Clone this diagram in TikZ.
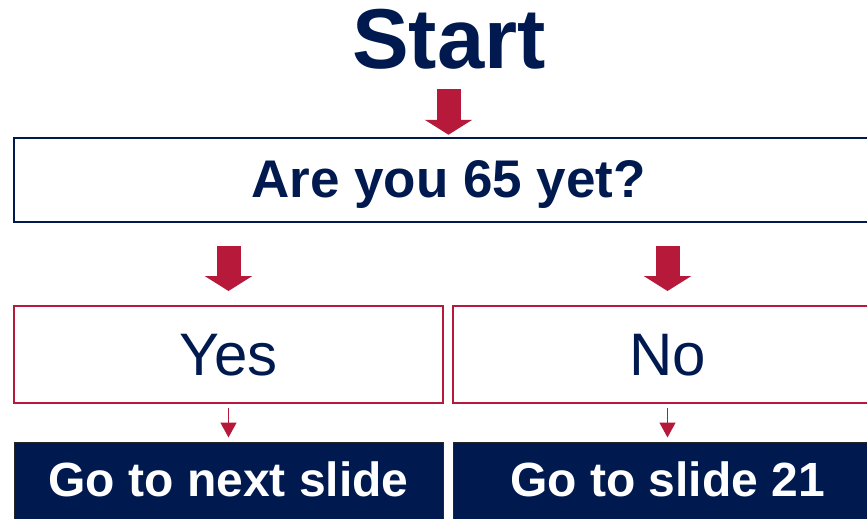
\documentclass[tikz,border=0pt]{standalone}
\usepackage{fontspec}
\setmainfont{Liberation Sans}
\usetikzlibrary{arrows.meta,calc}
\definecolor{navy}{RGB}{0,26,80}
\definecolor{crim}{RGB}{182,25,58}
\tikzset{
  x=1pt,y=1pt,
  qbox/.style={draw=navy,line width=2pt,minimum width=870pt,minimum height=84pt,inner sep=0pt,
    font=\fontsize{53}{53}\selectfont\bfseries,text=navy,text height=37.9pt,text depth=4.4pt},
  ansbox/.style={draw=crim,line width=2pt,minimum width=429pt,minimum height=97pt,inner sep=0pt,
    font=\fontsize{60}{60}\selectfont,text=navy,text height=43pt,text depth=2pt},
  gobox/.style={fill=navy,draw=black!85,line width=1pt,minimum width=429pt,minimum height=88pt,inner sep=0pt,
    font=\fontsize{48}{48}\selectfont\bfseries,text=white,text height=34.4pt,text depth=14.4pt},
  bigarr/.style={draw=crim,line width=24pt,-{Triangle[width=47pt,length=15pt]}},
  smallarr/.style={draw=crim,line width=1.5pt,-{Triangle[width=16pt,length=15pt]}},
}
\begin{document}
\begin{tikzpicture}
\useasboundingbox (0,0) rectangle (867,-519);
\node[anchor=base,inner sep=0pt,font=\fontsize{85}{85}\selectfont\bfseries,text=navy] (start) at (449,-69) {Start};
\node[qbox] (q) at (448.5,-180.25) {Are you 65 yet?};
\node[ansbox] (yes) at (228.5,-354.5) {Yes};
\node[ansbox] (no) at (667.5,-354.5) {No};
\node[gobox] (go1) at (228.5,-486) {Go to next slide};
\node[gobox] (go2) at (667.5,-486) {Go to slide 21};
\draw[bigarr] ($(start.base -| q.north)+(0,-20)$) -- ($(q.north)+(0,2.5)$);
\draw[bigarr] ($(q.south -| yes.north)+(0,-23)$) -- ($(yes.north)+(0,14)$);
\draw[bigarr] ($(q.south -| no.north)+(0,-23)$) -- ($(no.north)+(0,14)$);
\draw[smallarr] ($(yes.south)+(0,-4)$) -- ($(go1.north)+(0,4)$);
\draw[smallarr] ($(no.south)+(0,-4)$) -- ($(go2.north)+(0,4)$);
\end{tikzpicture}
\end{document}
